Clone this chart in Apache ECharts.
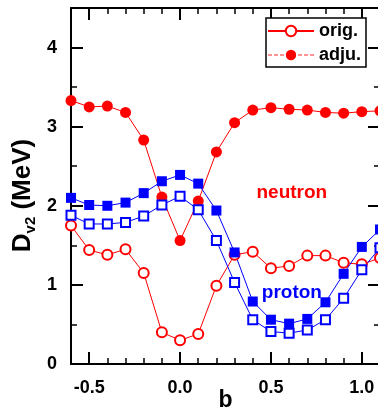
<!DOCTYPE html>
<html>
<head>
<meta charset="utf-8">
<script src="https://cdn.jsdelivr.net/npm/echarts@6/dist/echarts.min.js"></script>
<style>
  html, body { margin: 0; padding: 0; background: #fff; overflow: hidden; }
  #chart { width: 382px; height: 410px; }
</style>
</head>
<body>
<div id="chart"></div>
<script>
// Deformation parameter b
const bValues = [-0.6, -0.5, -0.4, -0.3, -0.2, -0.1, 0.0, 0.1, 0.2, 0.3, 0.4, 0.5, 0.6, 0.7, 0.8, 0.9, 1.0, 1.1];

// D_v2 (MeV) for neutrons and protons, original and adjusted
const neutronOrig = [1.75, 1.44, 1.38, 1.45, 1.15, 0.40, 0.30, 0.38, 0.99, 1.38, 1.42, 1.21, 1.24, 1.37, 1.37, 1.28, 1.26, 1.34];
const neutronAdju = [3.33, 3.25, 3.26, 3.18, 2.83, 2.11, 1.56, 2.06, 2.68, 3.05, 3.21, 3.24, 3.22, 3.21, 3.18, 3.17, 3.19, 3.20];
const protonOrig  = [1.88, 1.77, 1.77, 1.79, 1.87, 2.01, 2.12, 1.95, 1.56, 1.03, 0.56, 0.41, 0.39, 0.43, 0.56, 0.83, 1.19, 1.47];
const protonAdju  = [2.10, 2.01, 2.00, 2.04, 2.16, 2.31, 2.39, 2.28, 1.94, 1.41, 0.79, 0.56, 0.51, 0.57, 0.78, 1.14, 1.48, 1.70];

// Axis ticks
const xMajorTicks = [-0.5, 0.0, 0.5, 1.0];
const xMinorTicks = [-0.6, -0.5, -0.4, -0.3, -0.2, -0.1, 0.0, 0.1, 0.2, 0.3, 0.4, 0.5, 0.6, 0.7, 0.8, 0.9, 1.0, 1.1];
const yMajorTicks = [0, 1, 2, 3, 4];
const yMinorTicks = [0, 0.5, 1, 1.5, 2, 2.5, 3, 3.5, 4, 4.5];

const FONT = '"Liberation Sans", Arial, sans-serif';
const RED = '#ff0000';
const BLUE = '#0000ff';

const pairs = ys => bValues.map((b, i) => [b, ys[i]]);

function xAxisDef(position, major, showLabel) {
  return {
    type: 'value', position: position, min: -0.6, max: 1.1,
    axisLine: { show: major, onZero: false, lineStyle: { color: '#000', width: 2 } },
    axisTick: {
      show: true, inside: true, length: major ? 12 : 6,
      customValues: major ? xMajorTicks : xMinorTicks,
      lineStyle: { color: '#000', width: major ? 2 : 1.5 }
    },
    axisLabel: showLabel ? {
      show: true, customValues: xMajorTicks, margin: 15,
      fontFamily: FONT, fontSize: 18, fontWeight: 'bold', color: '#000',
      formatter: v => v.toFixed(1)
    } : { show: false },
    splitLine: { show: false }
  };
}

function yAxisDef(position, major, showLabel) {
  return {
    type: 'value', position: position, min: 0, max: 4.5,
    axisLine: { show: major, onZero: false, lineStyle: { color: '#000', width: 2 } },
    axisTick: {
      show: true, inside: true, length: major ? 12 : 6,
      customValues: major ? yMajorTicks : yMinorTicks,
      lineStyle: { color: '#000', width: major ? 2 : 1.5 }
    },
    axisLabel: showLabel ? {
      show: true, customValues: yMajorTicks, margin: 14,
      fontFamily: FONT, fontSize: 18, fontWeight: 'bold', color: '#000',
      formatter: v => String(v)
    } : { show: false },
    splitLine: { show: false }
  };
}

const xBottom = xAxisDef('bottom', true, true);
xBottom.name = 'b';
xBottom.nameLocation = 'middle';
xBottom.nameGap = 25;
xBottom.nameMoveOverlap = false;
xBottom.nameTextStyle = { fontFamily: FONT, fontSize: 23, fontWeight: 'bold', color: '#000' };

const yLeft = yAxisDef('left', true, true);
yLeft.name = '{d|D}{s|v2}{d| (MeV)}';
yLeft.nameLocation = 'middle';
yLeft.nameRotate = 90;
yLeft.nameGap = 33;
yLeft.nameMoveOverlap = false;
yLeft.nameTextStyle = {
  padding: [0, 19, 0, 0],
  rich: {
    d: { fontFamily: FONT, fontSize: 26, fontWeight: 'bold', color: '#000', lineHeight: 30 },
    s: { fontFamily: FONT, fontSize: 15, fontWeight: 'bold', color: '#000', lineHeight: 16, verticalAlign: 'bottom' }
  }
};

const chart = echarts.init(document.getElementById('chart'), null, { renderer: 'canvas' });

chart.setOption({
  animation: false,
  backgroundColor: '#fff',
  grid: { left: 71, right: 2, top: 8, bottom: 46, containLabel: false, outerBoundsMode: 'none' },
  xAxis: [
    xBottom,
    xAxisDef('bottom', false, false),
    xAxisDef('top', true, false),
    xAxisDef('top', false, false)
  ],
  yAxis: [
    yLeft,
    yAxisDef('left', false, false),
    yAxisDef('right', true, false),
    yAxisDef('right', false, false)
  ],
  legend: {
    orient: 'vertical',
    left: 266, top: 18,
    padding: [4, 5, 3, 1],
    itemGap: 6,
    itemWidth: 46, itemHeight: 13,
    backgroundColor: '#fff',
    borderColor: '#000', borderWidth: 1.5, borderRadius: 0,
    textStyle: { fontFamily: FONT, fontSize: 18, fontWeight: 'bold', color: '#000', lineHeight: 18 },
    data: [
      { name: 'orig.' },
      { name: 'adju.', lineStyle: { type: [4, 2], color: '#ff7070', width: 1.5 } }
    ]
  },
  series: [
    {
      name: 'orig.', type: 'line', data: pairs(neutronOrig),
      symbol: 'emptyCircle', symbolSize: 10,
      itemStyle: { color: RED, borderWidth: 1 },
      lineStyle: { color: RED, width: 1 }
    },
    {
      name: 'adju.', type: 'line', data: pairs(neutronAdju),
      symbol: 'circle', symbolSize: 11,
      itemStyle: { color: RED },
      lineStyle: { color: RED, width: 1 }
    },
    {
      name: 'proton orig.', type: 'line', data: pairs(protonOrig),
      symbol: 'emptyRect', symbolSize: 9,
      itemStyle: { color: BLUE, borderWidth: 1 },
      lineStyle: { color: BLUE, width: 1 }
    },
    {
      name: 'proton adju.', type: 'line', data: pairs(protonAdju),
      symbol: 'rect', symbolSize: 10,
      itemStyle: { color: BLUE },
      lineStyle: { color: BLUE, width: 1 }
    }
  ]
});

// Species labels placed in data coordinates
const neutronPos = chart.convertToPixel({ gridIndex: 0 }, [0.615, 2.17]);
const protonPos = chart.convertToPixel({ gridIndex: 0 }, [0.615, 0.90]);
chart.setOption({
  graphic: [
    {
      type: 'text', x: neutronPos[0], y: neutronPos[1], z: 100,
      style: { text: 'neutron', fill: RED, font: 'bold 19px ' + FONT, align: 'center', verticalAlign: 'middle' }
    },
    {
      type: 'text', x: protonPos[0], y: protonPos[1], z: 100,
      style: { text: 'proton', fill: BLUE, font: 'bold 19px ' + FONT, align: 'center', verticalAlign: 'middle' }
    }
  ]
});
</script>
</body>
</html>
